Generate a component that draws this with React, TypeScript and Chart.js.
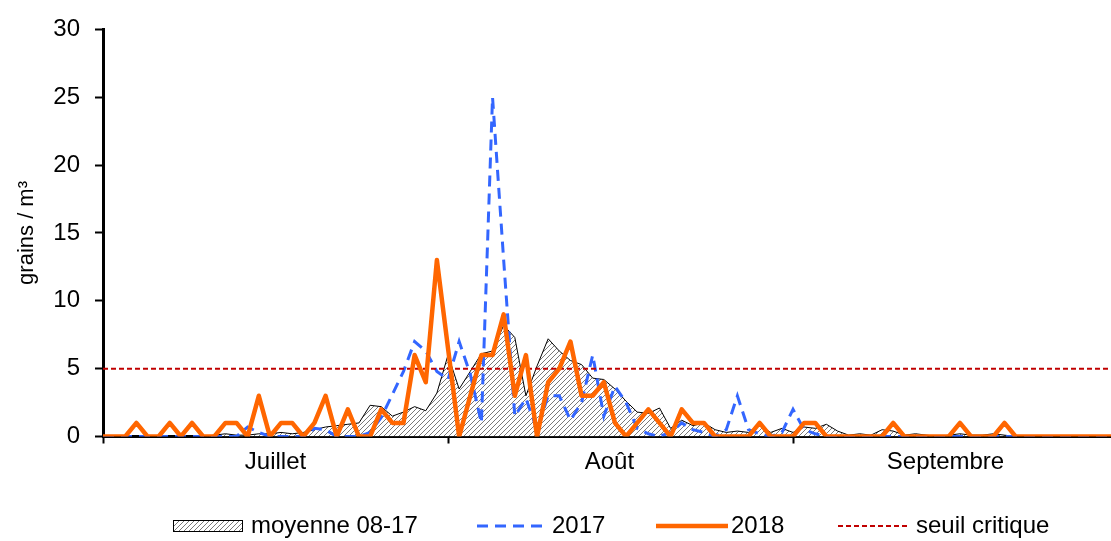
import React, { useEffect, useRef } from 'react';
import { Chart, registerables } from 'chart.js';

Chart.register(...registerables);

// ---------- data ----------
const monthNames = ['Juillet', 'Août', 'Septembre'];
const monthLabelDays = [15.5, 45.5, 75.7];
const monthBoundaryDays = [0, 31, 62];
const seriesNames = ['moyenne 08-17', '2017', '2018', 'seuil critique'];
const yAxisTitle = 'grains / m³';
const seuilCritique = 5;

// day index 0 = 1 July ... 91 = 30 September
const moyenne = [
  0, 0, 0, 0, 0, 0, 0, 0, 0, 0,
  0.1, 0.2, 0.1, 0.1, 0.2, 0.2, 0.3, 0.2, 0.3, 0.5,
  0.7, 0.8, 0.9, 1.0, 2.3, 2.2, 1.5, 1.8, 2.2, 1.9,
  3.2, 6.0, 3.5, 4.8, 6.1, 6.3, 8.2, 7.3, 3.0, 5.2,
  7.2, 6.3, 5.6, 5.3, 4.3, 4.2, 3.5, 2.6, 1.8, 1.7,
  2.1, 0.6, 1.2, 0.8, 1.0, 0.5, 0.3, 0.4, 0.3, 0.8,
  0.3, 0.6, 0.3, 0.7, 0.6, 0.9, 0.4, 0.1, 0.2, 0.1,
  0.5, 0.4, 0.1, 0.2, 0.1, 0, 0.1, 0.2, 0.1, 0.1,
  0.2, 0.1, 0, 0, 0, 0, 0, 0, 0, 0,
  0, 0,
];

const y2017 = [
  0, 0, 0, 0, 0, 0, 0, 0, 0, 0,
  0, 0, 0, 0.7, 0.3, 0, 0, 0, 0, 0.6,
  0.5, 0, 0, 0, 0.3, 1.4, 3.1, 4.8, 7.0, 6.3,
  4.8, 4.2, 7.0, 4.6, 1.0, 25.0, 13.0, 1.5, 2.8, 0.5,
  3.0, 3.0, 1.2, 2.5, 6.0, 1.5, 3.7, 2.5, 0.6, 0.2,
  0, 0.3, 1.0, 0.5, 0.3, 0, 0.5, 3.0, 0.5, 0.2,
  0, 0.3, 2.0, 0.5, 0.2, 0, 0, 0, 0, 0,
  0, 0, 0, 0, 0, 0, 0, 0, 0, 0,
  0, 0, 0, 0, 0, 0, 0, 0, 0, 0,
  0, 0,
];

const y2018 = [
  0, 0, 0, 1, 0, 0, 1, 0, 1, 0,
  0, 1, 1, 0, 3, 0, 1, 1, 0, 1,
  3, 0, 2, 0, 0, 2, 1, 1, 6, 4,
  13, 6.5, 0, 3, 6, 6, 9, 3, 6, 0,
  4, 5, 7, 3, 3, 4, 1, 0, 1, 2,
  1, 0, 2, 1, 1, 0, 0, 0, 0, 1,
  0, 0, 0, 1, 1, 0, 0, 0, 0, 0,
  0, 1, 0, 0, 0, 0, 0, 1, 0, 0,
  0, 1, 0, 0, 0, 0, 0, 0, 0, 0,
  0, 0,
];

const FONT = '"Liberation Sans", Arial, Helvetica, sans-serif';

function makeHatch(): CanvasPattern | string {
  const s = 5;
  const c = document.createElement('canvas');
  c.width = s;
  c.height = s;
  const g = c.getContext('2d');
  if (!g) return '#ccc';
  g.fillStyle = '#ffffff';
  g.fillRect(0, 0, s, s);
  g.strokeStyle = '#6a6a6a';
  g.lineWidth = 0.9;
  g.beginPath();
  g.moveTo(0, s);
  g.lineTo(s, 0);
  g.moveTo(-1, 1);
  g.lineTo(1, -1);
  g.moveTo(s - 1, s + 1);
  g.lineTo(s + 1, s - 1);
  g.stroke();
  return g.createPattern(c, 'repeat') || '#ccc';
}

const legendPlugin = {
  id: 'bottomLegend',
  afterDraw(chart: any) {
    const ctx = chart.ctx as CanvasRenderingContext2D;
    const ds = chart.data.datasets;
    const cy = 526;
    const items = [
      { i: 0, x0: 173, x1: 242, tx: 251 },
      { i: 1, x0: 477, x1: 549, tx: 552 },
      { i: 2, x0: 656, x1: 728, tx: 731 },
      { i: 3, x0: 838, x1: 910, tx: 916 },
    ];
    ctx.save();
    items.forEach((it) => {
      const d = ds[it.i];
      if (it.i === 0) {
        ctx.fillStyle = d.backgroundColor;
        ctx.fillRect(it.x0, cy - 6, it.x1 - it.x0, 12);
        ctx.strokeStyle = '#000';
        ctx.lineWidth = 1;
        ctx.setLineDash([]);
        ctx.strokeRect(it.x0 + 0.5, cy - 6 + 0.5, it.x1 - it.x0, 11);
      } else {
        ctx.strokeStyle = d.borderColor;
        ctx.lineWidth = d.borderWidth;
        ctx.setLineDash(d.borderDash || []);
        ctx.beginPath();
        ctx.moveTo(it.x0, cy);
        ctx.lineTo(it.x1, cy);
        ctx.stroke();
      }
      ctx.setLineDash([]);
      ctx.fillStyle = '#000';
      ctx.font = `24px ${FONT}`;
      ctx.textBaseline = 'middle';
      ctx.textAlign = 'left';
      ctx.fillText(d.label, it.tx, cy);
    });
    ctx.restore();
  },
};

export default function App() {
  const ref = useRef<HTMLCanvasElement>(null);

  useEffect(() => {
    const canvas = ref.current;
    if (!canvas) return;
    const hatch = makeHatch();
    const pts = (arr: number[]) => arr.map((v, i) => ({ x: i, y: v }));
    const lastDay = y2018.length - 1;

    const chart = new Chart(canvas, {
      type: 'line',
      data: {
        datasets: [
          {
            label: seriesNames[0],
            data: pts(moyenne),
            borderColor: '#000000',
            borderWidth: 1,
            backgroundColor: hatch as any,
            fill: 'origin',
            pointRadius: 0,
            tension: 0,
            order: 3,
          },
          {
            label: seriesNames[1],
            data: pts(y2017),
            borderColor: '#3366FF',
            borderWidth: 3,
            borderDash: [11, 7],
            fill: false,
            pointRadius: 0,
            tension: 0,
            order: 2,
          },
          {
            label: seriesNames[2],
            data: pts(y2018),
            borderColor: '#FF6600',
            borderWidth: 4.5,
            borderJoinStyle: 'round',
            fill: false,
            pointRadius: 0,
            tension: 0,
            order: 0,
          },
          {
            label: seriesNames[3],
            data: [
              { x: 0, y: seuilCritique },
              { x: lastDay, y: seuilCritique },
            ],
            borderColor: '#C00000',
            borderWidth: 2,
            borderDash: [5, 3],
            fill: false,
            pointRadius: 0,
            order: 1,
          },
        ],
      },
      options: {
        animation: false,
        responsive: false,
        events: [],
        layout: { padding: { top: 25, right: 0, bottom: 60, left: 0 } },
        plugins: {
          legend: { display: false },
          tooltip: { enabled: false },
        },
        scales: {
          x: {
            type: 'linear',
            min: 0,
            max: 90.57,
            afterBuildTicks: (s: any) => {
              s.ticks = [...monthBoundaryDays, ...monthLabelDays]
                .sort((a, b) => a - b)
                .map((v) => ({ value: v }));
            },
            afterFit: (s: any) => {
              s.height = 44.5;
            },
            ticks: {
              autoSkip: false,
              maxRotation: 0,
              minRotation: 0,
              padding: 4,
              color: '#000',
              font: { size: 24, family: FONT },
              callback: (v: any) => {
                const i = monthLabelDays.indexOf(Number(v));
                return i >= 0 ? monthNames[i] : '';
              },
            },
            grid: {
              drawOnChartArea: false,
              drawTicks: true,
              tickLength: 7,
              tickWidth: 2,
              tickColor: (c: any) =>
                c.tick && monthBoundaryDays.includes(c.tick.value) ? '#000' : 'rgba(0,0,0,0)',
            },
            border: { color: '#000', width: 3 },
          },
          y: {
            min: 0,
            max: 30,
            afterFit: (s: any) => {
              s.width = 103;
            },
            ticks: {
              stepSize: 5,
              padding: 15,
              color: '#000',
              font: { size: 24, family: FONT },
            },
            grid: {
              drawOnChartArea: false,
              drawTicks: true,
              tickLength: 8,
              tickWidth: 2,
              tickColor: '#000',
            },
            border: { color: '#000', width: 3 },
            title: {
              display: true,
              text: yAxisTitle,
              color: '#000',
              font: { size: 22, family: FONT },
              padding: { top: 14, bottom: 0 },
            },
          },
        },
      },
      plugins: [legendPlugin],
    } as any);

    return () => chart.destroy();
  }, []);

  return (
    <div style={{ position: 'absolute', left: 0, top: 0, width: 1111, height: 541, background: '#fff' }}>
      <canvas ref={ref} width={1111} height={541} style={{ display: 'block' }} />
    </div>
  );
}
